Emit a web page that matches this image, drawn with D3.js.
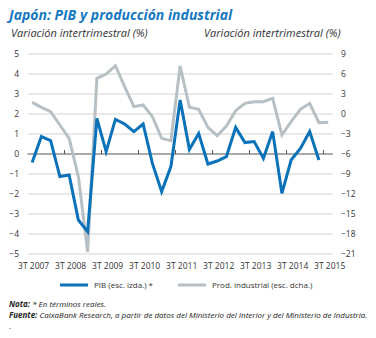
<!DOCTYPE html>
<html>
<head>
<meta charset="utf-8">
<script src="https://cdn.jsdelivr.net/npm/d3@7"></script>
<style>
  body { margin: 0; background: #fff; }
  text { font-family: "Open Sans", "Noto Sans", sans-serif; }
</style>
</head>
<body>
<div id="chart"></div>
<script>
// quarters shown on the x axis
var quarters = ["3T 2007","4T 2007","1T 2008","2T 2008","3T 2008","4T 2008","1T 2009","2T 2009",
  "3T 2009","4T 2009","1T 2010","2T 2010","3T 2010","4T 2010","1T 2011","2T 2011",
  "3T 2011","4T 2011","1T 2012","2T 2012","3T 2012","4T 2012","1T 2013","2T 2013",
  "3T 2013","4T 2013","1T 2014","2T 2014","3T 2014","4T 2014","1T 2015","2T 2015","3T 2015"];

// PIB, left scale (%), no value yet for 3T 2015
var pib = [-0.42, 0.87, 0.67, -1.13, -1.05, -3.3, -3.88, 1.78, 0.12, 1.73, 1.5, 1.12,
  1.5, -0.47, -1.88, -0.63, 2.7, 0.23, 1.03, -0.5, -0.35, -0.13, 1.33, 0.57,
  0.62, -0.22, 1.12, -1.97, -0.3, 0.28, 1.12, -0.3, null];

// industrial production, right scale (%)
var prod = [1.75, 1.0, 0.35, -1.65, -3.65, -9.4, -20.7, 5.35, 6.0, 7.25, 4.1, 1.1,
  1.35, -0.4, -3.65, -4.0, 7.2, 1.0, 0.7, -2.0, -3.25, -1.8, 0.5, 1.6,
  1.85, 1.85, 2.35, -3.15, -1.15, 0.7, 1.6, -1.3, -1.25];

var leftTicks = [-5, -4, -3, -2, -1, 0, 1, 2, 3, 4, 5];
var rightTicks = [-21, -18, -15, -12, -9, -6, -3, 0, 3, 6, 9];

var width = 376, height = 338;
var blue = "#0a72b8", grey = "#b7c0c5";

var svg = d3.select("#chart").append("svg")
  .attr("width", width)
  .attr("height", height);

// title + axis titles
svg.append("text")
  .attr("x", 9).attr("y", 20)
  .attr("fill", "#1679c0")
  .style("font-size", "14px").style("font-weight", "bold").style("font-style", "italic")
  .text("Japón: PIB y producción industrial");

svg.append("text")
  .attr("x", 11).attr("y", 37)
  .attr("fill", "#333")
  .style("font-size", "11px").style("font-style", "italic")
  .text("Variación intertrimestral (%)");

svg.append("text")
  .attr("x", 204).attr("y", 37)
  .attr("fill", "#333")
  .style("font-size", "11px").style("font-style", "italic")
  .text("Variación intertrimestral (%)");

// scales
var x = d3.scalePoint()
  .domain(quarters)
  .range([27.5, 332.8])
  .padding(0.5);

var yl = d3.scaleLinear().domain([-5, 5]).range([254, 54]);
var yr = d3.scaleLinear().domain([-21, 9]).range([254, 54]);

// gridlines
svg.append("g").selectAll("line")
  .data(leftTicks.filter(d => d != 0))
  .enter().append("line")
  .attr("x1", 27.5).attr("x2", 332.8)
  .attr("y1", d => yl(d)).attr("y2", d => yl(d))
  .attr("stroke", "#d3d3d3").attr("stroke-width", 1);

// left axis labels
var left_axis = d3.axisLeft(yl).tickValues(leftTicks).tickSize(0).tickPadding(0);
svg.append("g")
  .attr("transform", "translate(19,0)")
  .call(left_axis)
  .call(g => g.select(".domain").remove())
  .call(g => g.selectAll("text").attr("fill", "#333").style("font-size", "8.5px")
    .style("font-family", "\"Open Sans\", sans-serif"));

// right axis labels
var right_axis = d3.axisRight(yr).tickValues(rightTicks).tickSize(0).tickPadding(0);
svg.append("g")
  .attr("transform", "translate(341,0)")
  .call(right_axis)
  .call(g => g.select(".domain").remove())
  .call(g => g.selectAll("text").attr("fill", "#333").style("font-size", "8.5px")
    .style("font-family", "\"Open Sans\", sans-serif"));

// zero line with ticks between 2T and 3T
var step = x.step();
svg.append("line")
  .attr("x1", 27.5).attr("x2", 332.8)
  .attr("y1", yl(0)).attr("y2", yl(0))
  .attr("stroke", "#555").attr("stroke-width", 1);

svg.append("g").selectAll("line")
  .data(quarters.filter((q, i) => q.startsWith("3T") && i > 0))
  .enter().append("line")
  .attr("x1", d => x(d) - step / 2).attr("x2", d => x(d) - step / 2)
  .attr("y1", yl(0) - 4).attr("y2", yl(0))
  .attr("stroke", "#555").attr("stroke-width", 1);

// x labels
svg.append("g").selectAll("text")
  .data(quarters.filter(q => q.startsWith("3T")))
  .enter().append("text")
  .attr("x", d => x(d) + 1.5)
  .attr("y", 269)
  .attr("text-anchor", "middle")
  .attr("fill", "#333")
  .style("font-size", "8.5px")
  .text(d => d);

// lines
var prodLine = d3.line()
  .x((d, i) => x(quarters[i]))
  .y(d => yr(d));

var pibLine = d3.line()
  .defined(d => d != null)
  .x((d, i) => x(quarters[i]))
  .y(d => yl(d));

svg.append("path")
  .datum(prod)
  .attr("d", prodLine)
  .attr("fill", "none")
  .attr("stroke", grey)
  .attr("stroke-width", 3)
  .attr("stroke-linejoin", "miter");

svg.append("path")
  .datum(pib)
  .attr("d", pibLine)
  .attr("fill", "none")
  .attr("stroke", blue)
  .attr("stroke-width", 3)
  .attr("stroke-linejoin", "miter");

// legend
var legend = [
  {label: "PIB (esc. izda.) *", color: blue, x: 60},
  {label: "Prod. industrial (esc. dcha.)", color: grey, x: 178}
];
var lg = svg.append("g").selectAll("g")
  .data(legend)
  .enter().append("g");
lg.append("line")
  .attr("x1", d => d.x).attr("x2", d => d.x + 28)
  .attr("y1", 285).attr("y2", 285)
  .attr("stroke", d => d.color).attr("stroke-width", 3);
lg.append("text")
  .attr("x", d => d.x + 34).attr("y", 288)
  .attr("fill", "#333")
  .style("font-size", "8px")
  .text(d => d.label);

// notes
var nota = svg.append("text")
  .attr("x", 9).attr("y", 307)
  .attr("fill", "#222")
  .style("font-size", "8px").style("font-style", "italic");
nota.append("tspan").style("font-weight", "bold").text("Nota: ");
nota.append("tspan").text("* En términos reales.");

var fuente = svg.append("text")
  .attr("x", 9).attr("y", 318)
  .attr("fill", "#222")
  .style("font-size", "8px").style("font-style", "italic");
fuente.append("tspan").style("font-weight", "bold").text("Fuente: ");
fuente.append("tspan").text("CaixaBank Research, a partir de datos del Ministerio del Interior y del Ministerio de Industria.");

svg.append("text")
  .attr("x", 9).attr("y", 329)
  .attr("fill", "#222")
  .style("font-size", "8px")
  .text(".");
</script>
</body>
</html>
